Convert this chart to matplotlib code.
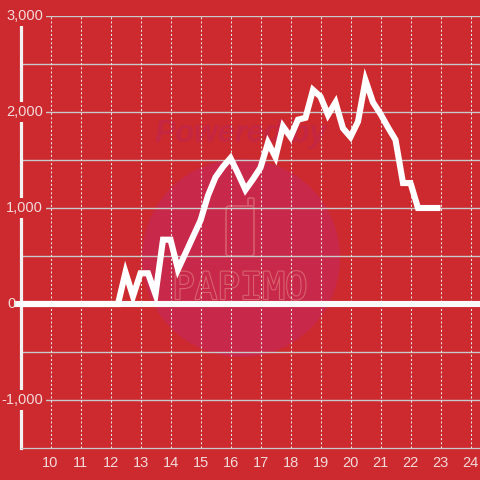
import matplotlib
matplotlib.use("Agg")
import matplotlib.pyplot as plt
import numpy as np
from matplotlib.patches import Circle, FancyBboxPatch
import matplotlib.patheffects as pe

# ---- data ----
hours = [9.0, 9.25, 9.5, 9.75, 10.0, 10.25, 10.5, 10.75, 11.0, 11.25, 11.5, 11.75,
         12.0, 12.25, 12.5, 12.75, 13.0, 13.25, 13.5, 13.75, 14.0, 14.25, 14.5, 14.75,
         15.0, 15.25, 15.5, 15.75, 16.0, 16.25, 16.5, 16.75, 17.0, 17.25, 17.5, 17.75,
         18.0, 18.25, 18.5, 18.75, 19.0, 19.25, 19.5, 19.75, 20.0, 20.25, 20.5, 20.75,
         21.0, 21.25, 21.5, 21.75, 22.0, 22.25, 22.5, 22.75, 23.0]
values = [0, 0, 0, 0, 0, 0, 0, 0, 0, 0, 0, 0,
          0, 0, 330, 80, 320, 320, 100, 670, 670, 360, 530, 700,
          870, 1130, 1320, 1430, 1520, 1360, 1190, 1300, 1420, 1680, 1530, 1850,
          1740, 1920, 1940, 2230, 2160, 1970, 2100, 1830, 1740, 1900, 2330, 2100,
          1980, 1840, 1710, 1260, 1260, 1000, 1000, 1000, 1000]
x_ticks = list(range(10, 25))
y_label_values = [-1000, 0, 1000, 2000, 3000]
y_label_texts = ["-1,000", "0", "1,000", "2,000", "3,000"]
y_grid = [-1000, -500, 0, 500, 1000, 1500, 2000, 2500, 3000]

BG = "#CC2A2F"
LABEL = "#F3D9D9"
GRID = "#C9C9C9"

W = H = 480
fig = plt.figure(figsize=(4.8, 4.8), dpi=100)
fig.patch.set_facecolor(BG)

ax_left, ax_right, ax_top, ax_bottom = 20.5, 480.0, 16.0, 448.0
ax = fig.add_axes([ax_left / W, 1 - ax_bottom / H, (ax_right - ax_left) / W, (ax_bottom - ax_top) / H])
ax.patch.set_visible(False)
ax.set_xlim(9, 9 + (ax_right - ax_left) / 30.0)
ax.set_ylim(-1500, 3000)

# ---- watermark (behind axes) ----
fig.add_artist(Circle((241 / W, 1 - 258 / H), 99 / W, transform=fig.transFigure,
                      facecolor="#C8284A", edgecolor="none", zorder=-2))
fig.text(241 / W, 1 - 134 / H, "Powered by", ha="center", va="center", fontsize=22,
         fontweight="bold", fontstyle="italic", family="Liberation Sans",
         color="#C52641", zorder=-1)
fig.add_artist(FancyBboxPatch((226 / W, 1 - 256 / H), 28 / W, 50 / H,
                              boxstyle="round,pad=0,rounding_size=0.006",
                              transform=fig.transFigure, facecolor="none",
                              edgecolor="#D6586A", lw=1.3, zorder=-1))
fig.add_artist(FancyBboxPatch((248 / W, 1 - 206 / H), 6 / W, 8 / H,
                              boxstyle="round,pad=0,rounding_size=0.003",
                              transform=fig.transFigure, facecolor="none",
                              edgecolor="#D6586A", lw=1.3, zorder=-1))
t = fig.text(240 / W, 1 - 289 / H, "PAPIMO", ha="center", va="center", fontsize=27,
             family="DejaVu Sans Mono", color="#C8284A", zorder=-1)
t.set_path_effects([pe.Stroke(linewidth=1.6, foreground="#D8626E"), pe.Normal()])

# ---- grid ----
for v in y_grid:
    if v != 0:
        ax.axhline(v, color=GRID, lw=1.0, zorder=1)
ax.set_xticks(x_ticks)
ax.set_xticklabels([str(x) for x in x_ticks], fontsize=10.5, family="Liberation Sans", color=LABEL)
ax.tick_params(axis="x", length=0, pad=5.5)
ax.set_yticks([])
for x in x_ticks:
    ax.axvline(x, color="#E6E6E6", lw=0.75, linestyle=(0, (2, 2)), zorder=1)

# spines
for s in ["top", "right"]:
    ax.spines[s].set_visible(False)
ax.spines["left"].set_color("#F2F2F2")
ax.spines["left"].set_linewidth(2.3)
ax.spines["left"].set_zorder(2)
ax.spines["bottom"].set_color(GRID)
ax.spines["bottom"].set_linewidth(0.9)

# zero line
ax.axhline(0, xmin=-3.5 / (ax_right - ax_left), xmax=1, color="#FAFAFA", lw=4.4,
           clip_on=False, zorder=4)

# data line
ax.plot(hours, values, color="white", lw=4.4, solid_joinstyle="miter",
        solid_capstyle="butt", zorder=5)

# y labels
for v, txt in zip(y_label_values, y_label_texts):
    if v == 0:
        ax.annotate(txt, xy=(0, v), xycoords=("axes fraction", "data"),
                    xytext=((16 - ax_left) * 0.72, 0), textcoords="offset points",
                    ha="right", va="center", fontsize=10.5, family="Liberation Sans",
                    color=LABEL, annotation_clip=False, zorder=6)
    else:
        ax.annotate(txt, xy=(0, v), xycoords=("axes fraction", "data"),
                    xytext=((43 - ax_left) * 0.72, 0), textcoords="offset points",
                    ha="right", va="center", fontsize=10.5, family="Liberation Sans",
                    color=LABEL, annotation_clip=False, zorder=6,
                    bbox=dict(boxstyle="square,pad=0.2", fc=BG, ec="none"))

fig.savefig("out.png", dpi=100, facecolor=BG)
